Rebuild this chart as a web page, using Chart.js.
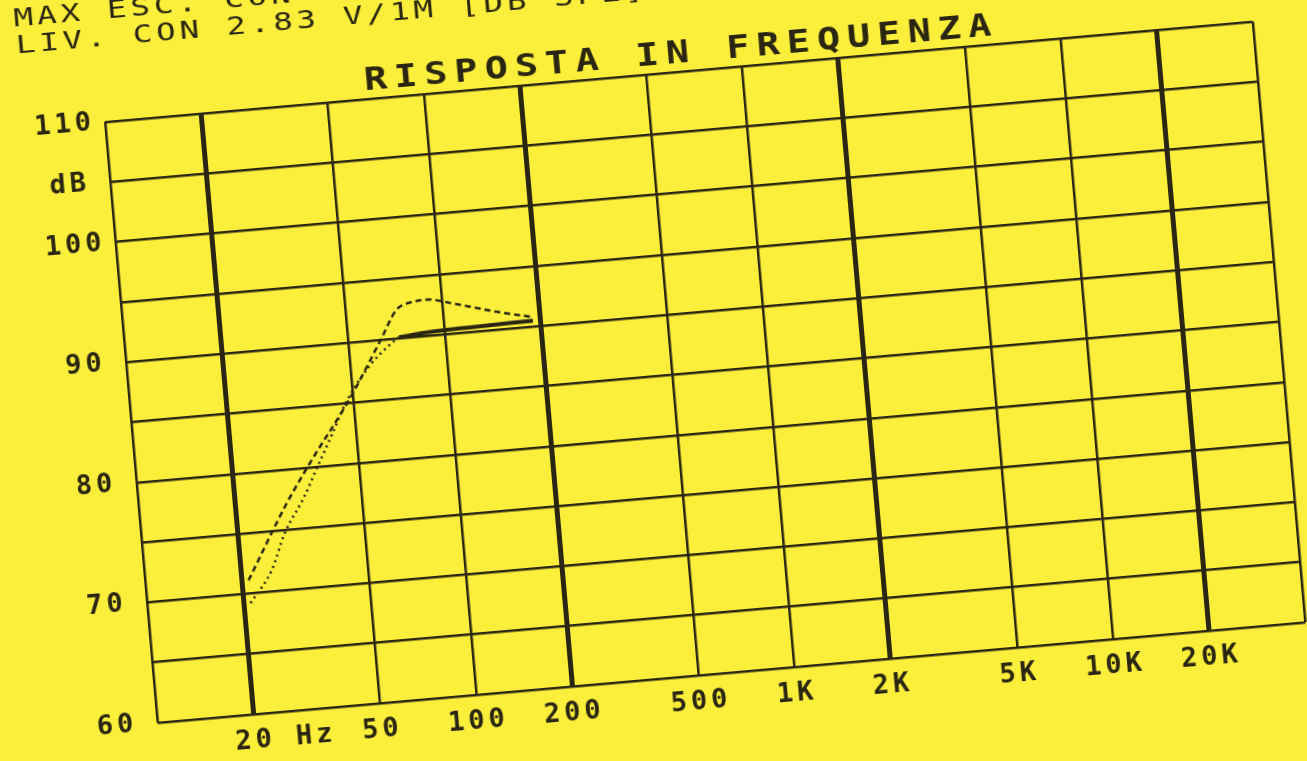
<!DOCTYPE html>
<html>
<head>
<meta charset="utf-8">
<script src="https://cdn.jsdelivr.net/npm/chart.js@4.4.1/dist/chart.umd.min.js"></script>
<style>
  html, body { margin: 0; padding: 0; width: 1307px; height: 761px; overflow: hidden; background: #fcef3b; }
  /* the scanned plot sits about 5 degrees off level */
  #wrap { position: absolute; left: -25px; top: -28px; width: 1400px; height: 860px;
          transform-origin: 130px 150px; transform: rotate(-5deg); }
</style>
</head>
<body>
<div id="wrap"><canvas id="chart" width="1400" height="860"></canvas></div>
<script>
// ── Data ─────────────────────────────────────────────────────────
const xTickValues = [10, 20, 50, 100, 200, 500, 1000, 2000, 5000, 10000, 20000, 40000];
const xTickLabels = ['', '   20 Hz', '50', '100', '200', '500', '1K', '2K', '5K', '10K', '20K', ''];
const xThickLines = [20, 200, 2000, 20000];

const yTickValues = [60, 65, 70, 75, 80, 85, 90, 95, 100, 105, 110];
const yTickLabels = ['60', '', '70', '', '80', '', '90', '', '100', 'dB', '110'];

// upper dashed curve
const maxFreq = [21, 29, 35, 49, 63, 72, 80, 90, 108, 147, 190];
const maxDb   = [71.1, 77.2, 80.3, 85.5, 90.0, 92.4, 92.9, 93.0, 92.5, 91.5, 90.8];
// lower dotted curve
const livFreq = [21, 25, 28, 33, 37, 42, 47, 57, 66, 72];
const livDb   = [69.2, 71.8, 74.7, 77.6, 80.0, 82.6, 85.0, 87.9, 89.4, 90.1];
// solid segment
const solidFreq = [72, 90, 120, 190];
const solidDb   = [90.1, 90.3, 90.4, 90.5];

const headerLines = ['MAX ESC. CON ACUST. [DB SPL] = 110', 'LIV. CON 2.83 V/1M [DB SPL] = 0.5'];
const titleText = 'RISPOSTA IN FREQUENZA';

const INK = '#2a2612';
const MONO = '"DejaVu Sans Mono", monospace';

const toPoints = (xs, ys) => xs.map((x, i) => ({ x, y: ys[i] }));

// plotter lettering: wide, spaced-out characters
const plotterText = {
  id: 'plotterText',
  beforeDraw(chart) {
    chart.ctx.letterSpacing = '4px';
  },
  afterDraw(chart) {
    const { ctx, chartArea } = chart;
    ctx.save();
    ctx.fillStyle = INK;
    ctx.textBaseline = 'alphabetic';
    ctx.textAlign = 'left';
    ctx.font = '25px ' + MONO;
    ctx.letterSpacing = '3px';
    headerLines.forEach((t, i) => {
      ctx.save();
      ctx.translate(chartArea.left - 82, chartArea.top - 103 + i * 27);
      ctx.scale(1.3, 1);
      ctx.fillText(t, 0, 0);
      ctx.restore();
    });
    ctx.font = 'bold 32px ' + MONO;
    ctx.textAlign = 'center';
    ctx.letterSpacing = '6px';
    ctx.translate((chartArea.left + chartArea.right) / 2 + 4, chartArea.top - 9);
    ctx.scale(1.2, 1);
    ctx.fillText(titleText, 0, 0);
    ctx.restore();
  },
};

new Chart(document.getElementById('chart'), {
  type: 'line',
  data: {
    datasets: [
      {
        data: toPoints(maxFreq, maxDb),
        borderColor: INK, borderWidth: 2.5, borderDash: [6, 4],
        pointRadius: 0, cubicInterpolationMode: 'monotone',
      },
      {
        data: toPoints(livFreq, livDb),
        borderColor: INK, borderWidth: 2.5, borderDash: [2, 4],
        pointRadius: 0, cubicInterpolationMode: 'monotone',
      },
      {
        data: toPoints(solidFreq, solidDb),
        borderColor: INK, borderWidth: 4,
        pointRadius: 0, cubicInterpolationMode: 'monotone',
      },
    ],
  },
  options: {
    responsive: false,
    devicePixelRatio: 1,
    animation: false,
    layout: { padding: { left: 30, top: 150, right: 118, bottom: 47 } },
    plugins: { legend: { display: false }, tooltip: { enabled: false } },
    scales: {
      x: {
        type: 'logarithmic', min: 10, max: 40000,
        afterBuildTicks: s => { s.ticks = xTickValues.map(v => ({ value: v })); },
        afterFit: s => { s.height = 60; },
        border: { display: false },
        grid: {
          drawTicks: false, color: INK,
          lineWidth: c => (c.tick && xThickLines.includes(c.tick.value)) ? 5 : 2.5,
        },
        ticks: {
          autoSkip: false, maxRotation: 0, minRotation: 0, padding: 11, color: INK,
          font: { family: MONO, size: 27, weight: 'bold' },
          callback: (v, i) => xTickLabels[i],
        },
      },
      y: {
        type: 'linear', min: 60, max: 110,
        afterBuildTicks: s => { s.ticks = yTickValues.map(v => ({ value: v })); },
        afterFit: s => { s.width = 100; },
        border: { display: false },
        grid: { drawTicks: false, color: INK, lineWidth: 2.5 },
        ticks: {
          crossAlign: 'center', padding: 16, color: INK,
          font: { family: MONO, size: 27, weight: 'bold' },
          callback: (v, i) => yTickLabels[i],
        },
      },
    },
  },
  plugins: [plotterText],
});
</script>
</body>
</html>
